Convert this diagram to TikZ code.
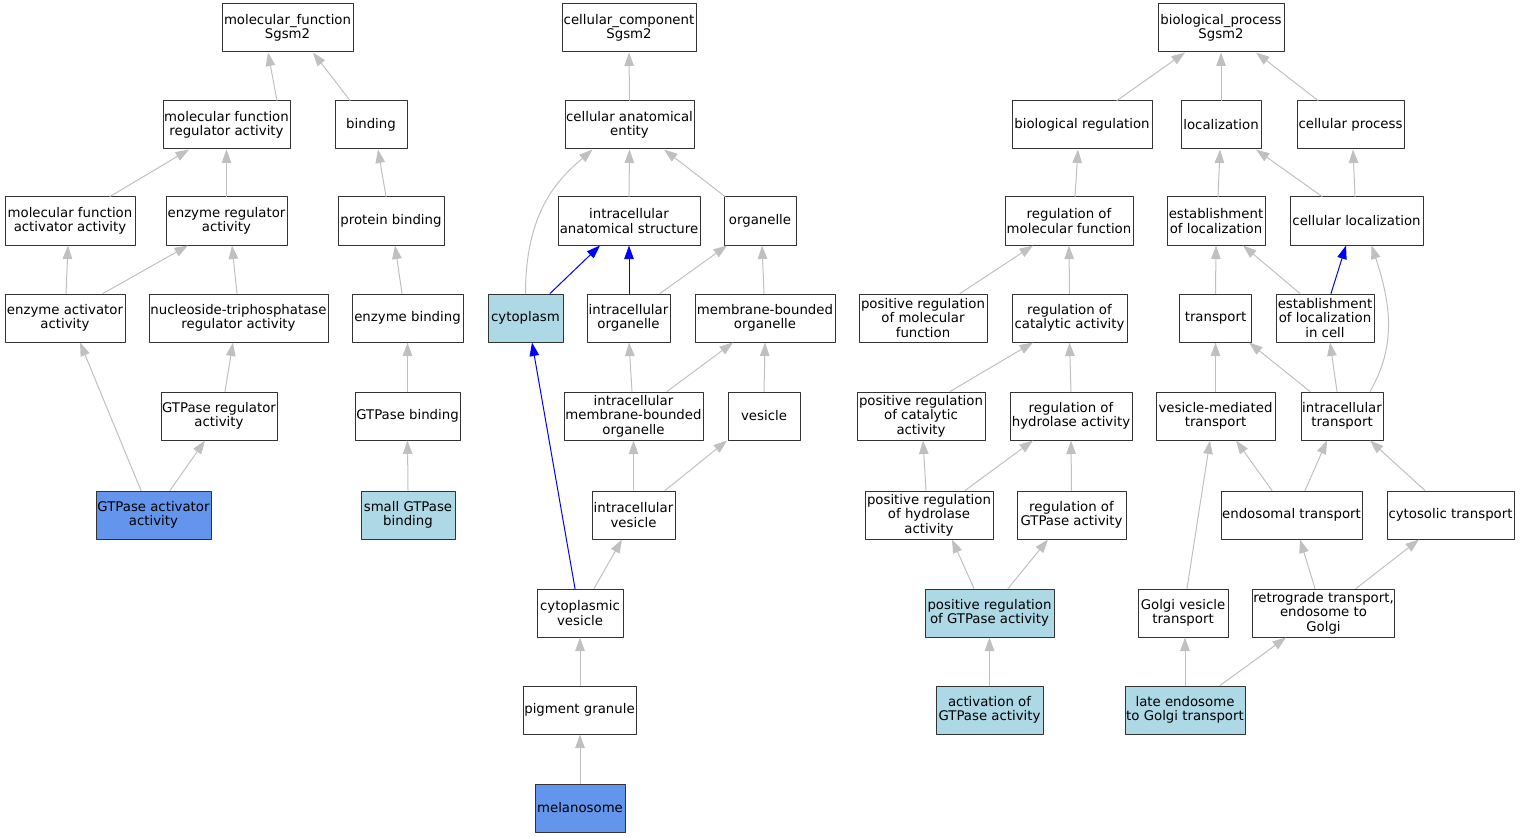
\documentclass[tikz,border=0pt]{standalone}
\usepackage{fontspec}
\setmainfont{DejaVu Sans}
\usetikzlibrary{arrows.meta}
\definecolor{hitblue}{HTML}{ADD8E6}
\definecolor{seedblue}{HTML}{6495ED}
\definecolor{edgegray}{HTML}{C0C0C0}
\tikzset{
  term/.style={draw=black!80, line width=1pt, fill=white, rectangle, align=center,
    minimum height=48pt, inner sep=1pt, font=\fontsize{13.3}{14.6}\selectfont},
  hit/.style={term, fill=hitblue},
  seed/.style={term, fill=seedblue},
  isa/.style={draw=edgegray, line width=1pt, -{Triangle[length=13.5pt,width=9.5pt]}},
  partof/.style={draw=blue, line width=1pt, -{Triangle[length=13.5pt,width=9.5pt]}}
}
% child, shift at child, parent, shift at parent
\newcommand{\link}[5][isa]{\draw[#1] ([xshift=#3]#2.north) -- ([xshift=#5]#4.south);}
\begin{document}
\begin{tikzpicture}[x=1pt, y=-1pt, line join=round, line cap=round]
  \useasboundingbox (0,0) rectangle (1520,837);
  % molecular function
  \node[term, minimum width=131] (mf) at (287.5,28) {molecular\_function\\Sgsm2};
  \node[term, minimum width=127] (mfra) at (226.5,125) {molecular function\\regulator activity};
  \node[term, minimum width=72] (bind) at (371,125) {binding};
  \node[term, minimum width=130] (mfaa) at (70,221) {molecular function\\activator activity};
  \node[term, minimum width=121] (era) at (226.5,221) {enzyme regulator\\activity};
  \node[term, minimum width=106] (pbind) at (391,221) {protein binding};
  \node[term, minimum width=120] (eaa) at (65,318) {enzyme activator\\activity};
  \node[term, minimum width=179] (ntra) at (238.5,318) {nucleoside-triphosphatase\\regulator activity};
  \node[term, minimum width=111] (ebind) at (407.5,318) {enzyme binding};
  \node[term, minimum width=116] (gra) at (219,416) {GTPase regulator\\activity};
  \node[term, minimum width=105] (gbind) at (407.5,416) {GTPase binding};
  \node[seed, minimum width=115] (gaa) at (153.5,515) {GTPase activator\\activity};
  \node[hit, minimum width=94] (sgbind) at (408,515) {small GTPase\\binding};
  % cellular component
  \node[term, minimum width=134] (cc) at (629,28) {cellular\_component\\Sgsm2};
  \node[term, minimum width=129] (cae) at (629.5,125) {cellular anatomical\\entity};
  \node[term, minimum width=142] (ias) at (629,221) {intracellular\\anatomical structure};
  \node[term, minimum width=72] (org) at (760,221) {organelle};
  \node[hit, minimum width=75] (cyto) at (525.5,318) {cytoplasm};
  \node[term, minimum width=83] (iorg) at (628.5,318) {intracellular\\organelle};
  \node[term, minimum width=140] (mborg) at (765,318) {membrane-bounded\\organelle};
  \node[term, minimum width=139] (imborg) at (633.5,416) {intracellular\\membrane-bounded\\organelle};
  \node[term, minimum width=72] (ves) at (764,416) {vesicle};
  \node[term, minimum width=83] (ives) at (633.5,515) {intracellular\\vesicle};
  \node[term, minimum width=86] (cves) at (580,613) {cytoplasmic\\vesicle};
  \node[term, minimum width=113] (pgran) at (579.5,710) {pigment granule};
  \node[seed, minimum width=90] (melano) at (580,808) {melanosome};
  % biological process
  \node[term, minimum width=126] (bp) at (1221,28) {biological\_process\\Sgsm2};
  \node[term, minimum width=140] (breg) at (1082,125) {biological regulation};
  \node[term, minimum width=80] (loc) at (1221,125) {localization};
  \node[term, minimum width=107] (cproc) at (1350.5,125) {cellular process};
  \node[term, minimum width=128] (rmf) at (1069,221) {regulation of\\molecular function};
  \node[term, minimum width=98] (eloc) at (1216,221) {establishment\\of localization};
  \node[term, minimum width=133] (cloc) at (1356.5,221) {cellular localization};
  \node[term, minimum width=128] (prmf) at (923,318) {positive regulation\\of molecular\\function};
  \node[term, minimum width=115] (rca) at (1069.5,318) {regulation of\\catalytic activity};
  \node[term, minimum width=72] (trans) at (1215.5,318) {transport};
  \node[term, minimum width=98] (elocc) at (1325,318) {establishment\\of localization\\in cell};
  \node[term, minimum width=128] (prca) at (921,416) {positive regulation\\of catalytic\\activity};
  \node[term, minimum width=122] (rha) at (1071,416) {regulation of\\hydrolase activity};
  \node[term, minimum width=119] (vmt) at (1215.5,416) {vesicle-mediated\\transport};
  \node[term, minimum width=82] (itrans) at (1342,416) {intracellular\\transport};
  \node[term, minimum width=128] (prha) at (929,515) {positive regulation\\of hydrolase\\activity};
  \node[term, minimum width=109] (rga) at (1071.5,515) {regulation of\\GTPase activity};
  \node[term, minimum width=141] (endot) at (1291.5,515) {endosomal transport};
  \node[term, minimum width=127] (cytot) at (1450.5,515) {cytosolic transport};
  \node[hit, minimum width=129] (prga) at (989.5,613) {positive regulation\\of GTPase activity};
  \node[term, minimum width=90] (gvt) at (1183,613) {Golgi vesicle\\transport};
  \node[term, minimum width=141] (rteg) at (1323.5,613) {retrograde transport,\\endosome to\\Golgi};
  \node[hit, minimum width=107] (agta) at (989.5,710) {activation of\\GTPase activity};
  \node[hit, minimum width=120] (legt) at (1185,710) {late endosome\\to Golgi transport};
  % edges, molecular function
  \link{mfra}{50.5}{mf}{-19.5}
  \link{bind}{-21}{mf}{25.5}
  \link{mfaa}{40}{mfra}{-37.5}
  \link{era}{0}{mfra}{0}
  \link{pbind}{-5}{bind}{7}
  \link{eaa}{1}{mfaa}{-2}
  \link{eaa}{38}{era}{-38.5}
  \link{ntra}{-1.5}{era}{5.5}
  \link{ebind}{-5.5}{pbind}{4}
  \link{gra}{6}{ntra}{-5.5}
  \link{gbind}{0}{ebind}{0}
  \link{gaa}{-12.5}{eaa}{15}
  \link{gaa}{16.5}{gra}{-14}
  \link{sgbind}{0}{gbind}{0}
  % edges, cellular component
  \link{cae}{0}{cc}{0}
  \link{ias}{0}{cae}{0}
  \link{org}{-35}{cae}{34.5}
  \draw[isa] (cyto.north) .. controls +(0,-85) and +(-32,28) .. ([xshift=-37]cae.south);
  \link[partof]{cyto}{24.5}{ias}{-29}
  \link[partof]{iorg}{0.5}{ias}{0}
  \link{iorg}{31.5}{org}{-33}
  \link{mborg}{-1}{org}{2}
  \link{imborg}{-1.5}{iorg}{0.5}
  \link{imborg}{33.5}{mborg}{-32}
  \link{ves}{0}{mborg}{0}
  \link{ives}{0}{imborg}{0}
  \link{ives}{31.5}{ves}{-37}
  \link{cves}{14}{ives}{-11.5}
  \link[partof]{cves}{-5}{cyto}{6.5}
  \link{pgran}{0.5}{cves}{0}
  \link{melano}{0}{pgran}{0.5}
  % edges, biological process
  \link{breg}{35}{bp}{-36}
  \link{loc}{0}{bp}{0}
  \link{cproc}{-32.5}{bp}{35}
  \link{rmf}{6}{breg}{-4}
  \link{eloc}{2}{loc}{-1}
  \link{cloc}{-34.5}{loc}{35}
  \link{cloc}{-1.5}{cproc}{2.5}
  \link{prmf}{37}{rmf}{-36}
  \link{rca}{0}{rmf}{0}
  \link{trans}{0}{eloc}{0}
  \link{elocc}{-25}{eloc}{27}
  \link[partof]{elocc}{6}{cloc}{-10.5}
  \link{prca}{29}{rca}{-36.5}
  \link{rha}{0}{rca}{0}
  \link{vmt}{0}{trans}{0}
  \link{itrans}{-32}{trans}{33.5}
  \link{itrans}{-5}{elocc}{5}
  \draw[isa] ([xshift=28]itrans.north) .. controls +(26,-45) and +(20,60) .. ([xshift=15]cloc.south);
  \link{prha}{-3}{prca}{2}
  \link{prha}{36}{rha}{-38}
  \link{rga}{0}{rha}{0}
  \link{endot}{-19.5}{vmt}{20.5}
  \link{endot}{13.5}{itrans}{-15}
  \link{cytot}{-25.5}{itrans}{28}
  \link{prga}{-15.5}{prha}{23}
  \link{prga}{18.5}{rga}{-23.5}
  \link{gvt}{4}{vmt}{-5.5}
  \link{rteg}{-8.5}{endot}{8.5}
  \link{rteg}{32.5}{cytot}{-31.5}
  \link{agta}{0}{prga}{0}
  \link{legt}{0}{gvt}{2}
  \link{legt}{35}{rteg}{-37.5}
\end{tikzpicture}
\end{document}
